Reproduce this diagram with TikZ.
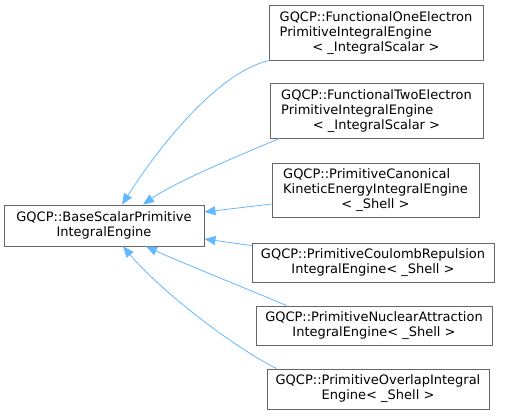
\documentclass[tikz,border=0pt]{standalone}
\usepackage{fontspec}
\setmainfont{DejaVu Sans}
\usepackage{tikz}
\usetikzlibrary{arrows.meta}
\definecolor{edgeblue}{HTML}{63B8FF}
\definecolor{boxgray}{HTML}{666666}
\newcommand{\leftpair}[2]{\begin{tabular}[b]{@{}l@{}}#1\\#2\end{tabular}}

\begin{document}
\begin{tikzpicture}[
  x=1pt, y=-1pt,
  cls/.style={rectangle, draw=boxgray, line width=0.9pt, fill=white,
              align=center, inner sep=0pt,
              font=\fontsize{13}{15}\selectfont},
  inh/.style={edgeblue, line width=0.8pt,
              -{Triangle[length=11pt,width=9pt]}}
]
  \useasboundingbox (0,0) rectangle (505,415);

  \node[cls, minimum width=200pt, minimum height=41pt] (base) at (104,225.5)
    {GQCP::BaseScalarPrimitive\\IntegralEngine};

  \node[cls, minimum width=214pt, minimum height=55pt] (oneel) at (376,32.5)
    {\leftpair{GQCP::FunctionalOneElectron}{PrimitiveIntegralEngine}\\< \_IntegralScalar >};
  \node[cls, minimum width=213pt, minimum height=55pt] (twoel) at (376.5,110.5)
    {\leftpair{GQCP::FunctionalTwoElectron}{PrimitiveIntegralEngine}\\< \_IntegralScalar >};
  \node[cls, minimum width=207pt, minimum height=54pt] (kinetic) at (375.5,190)
    {\leftpair{GQCP::PrimitiveCanonical}{KineticEnergyIntegralEngine}\\< \_Shell >};
  \node[cls, minimum width=242pt, minimum height=39pt] (coulomb) at (373,262.5)
    {GQCP::PrimitiveCoulombRepulsion\\IntegralEngine< \_Shell >};
  \node[cls, minimum width=236pt, minimum height=39pt] (nuclear) at (374,325.5)
    {GQCP::PrimitiveNuclearAttraction\\IntegralEngine< \_Shell >};
  \node[cls, minimum width=222pt, minimum height=40pt] (overlap) at (378,389)
    {GQCP::PrimitiveOverlapIntegral\\Engine< \_Shell >};

  % inheritance edges
  \draw[inh] ([xshift=1pt]oneel.south west) .. controls (225,70) and (170,130) .. ([xshift=18pt]base.north);
  \draw[inh] ([xshift=10pt]twoel.south west) .. controls (240,155) and (175,182) .. ([xshift=39pt]base.north);
  \draw[inh] ([yshift=-14pt]kinetic.west) -- ([yshift=13.5pt]base.east);
  \draw[inh] ([yshift=17pt]coulomb.west) -- ([yshift=-13.5pt]base.east);
  \draw[inh] ([xshift=31pt]nuclear.north west) .. controls (250,290) and (180,262) .. ([xshift=42pt]base.south);
  \draw[inh] ([xshift=10pt]overlap.north west) .. controls (230,345) and (160,290) .. ([xshift=19pt]base.south);
\end{tikzpicture}
\end{document}
